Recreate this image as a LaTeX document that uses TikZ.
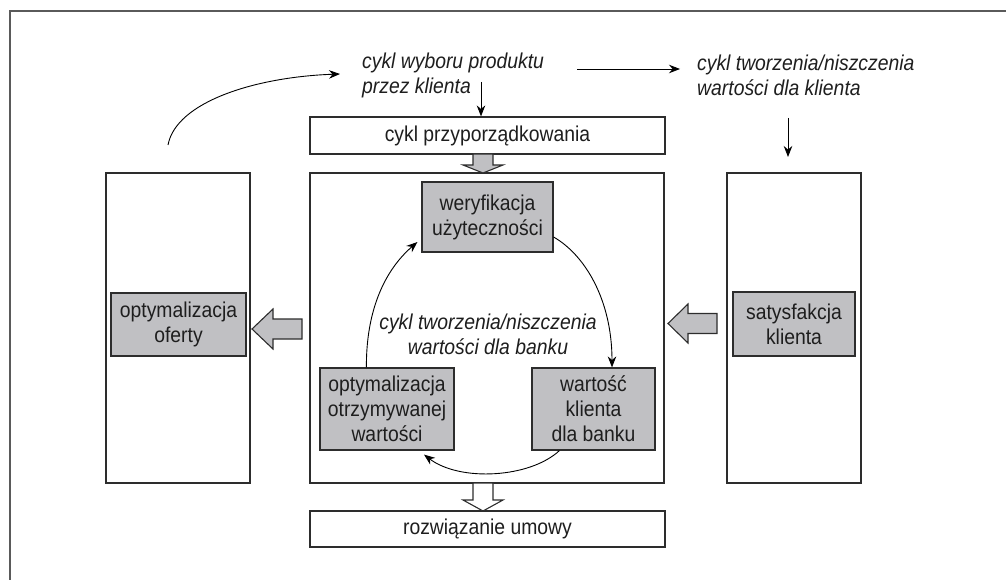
\documentclass[tikz,border=0pt]{standalone}
\usepackage{fontspec}
\setmainfont{Liberation Sans}[FakeStretch=0.9]
\usetikzlibrary{arrows.meta,calc}
\definecolor{boxgray}{RGB}{192,192,195}
\definecolor{edge}{RGB}{45,45,45}
\definecolor{ink}{RGB}{30,30,30}
\definecolor{framecol}{RGB}{90,90,90}
\tikzset{
  lbl/.style={font=\fontsize{21.5}{25}\selectfont, text=ink, align=center, inner sep=0pt},
  itl/.style={font=\fontsize{21.5}{25}\selectfont\itshape, text=ink, align=left, inner sep=0pt},
  whitebox/.style={draw=edge, line width=1.2pt, fill=white, inner sep=0pt, lbl},
  graybox/.style={draw=edge, line width=1.2pt, fill=boxgray, inner sep=0pt, lbl},
  arr/.style={-{Stealth[length=11pt,width=8.5pt]}, line width=0.9pt, draw=black},
  blockarrow/.style={draw=edge, line width=1.1pt, line join=miter},
}
\begin{document}
\begin{tikzpicture}[x=1pt, y=-1pt]
  \useasboundingbox (0,0) rectangle (1006,580);

  % open frame
  \draw[framecol, line width=1.4pt] (10,580) -- (10,11) -- (1006,11);

  % columns
  \node[whitebox, minimum width=144, minimum height=310] (lcol) at (178,328) {};
  \node[whitebox, minimum width=354, minimum height=310] (cent) at (487,328) {};
  \node[whitebox, minimum width=134, minimum height=310] (rcol) at (794,328) {};

  % top and bottom bars
  \node[whitebox, minimum width=355, minimum height=37] (cyk) at (487.5,135.5) {cykl przyporządkowania};
  \node[whitebox, minimum width=355, minimum height=36] (roz) at (487.5,529) {rozwiązanie umowy};

  % grey boxes
  \node[graybox, minimum width=131, minimum height=70] (wer) at (487.5,217) {weryfikacja\\użyteczności};
  \node[graybox, minimum width=135, minimum height=63] (ofe) at (178.5,324.5) {optymalizacja\\oferty};
  \node[graybox, minimum width=122, minimum height=64] (sat) at (794,324) {satysfakcja\\klienta};
  \node[graybox, minimum width=134, minimum height=82] (otr) at (387,409) {optymalizacja\\otrzymywanej\\wartości};
  \node[graybox, minimum width=123, minimum height=82] (war) at (593.5,409) {wartość\\klienta\\dla banku};

  % italic captions
  \node[itl, anchor=west] (wyb) at (362,75) {cykl wyboru produktu\\przez klienta};
  \node[itl, anchor=west] (kli) at (697,75) {cykl tworzenia/niszczenia\\wartości dla klienta};
  \node[itl, align=center] (ban) at (488,334.5) {cykl tworzenia/niszczenia\\wartości dla banku};

  % free ends of the connectors
  \coordinate (c0) at (168,145);
  \coordinate (c1) at (340,74);
  \coordinate (c2) at (577,69);
  \coordinate (c3) at (680,69);
  \coordinate (c4) at (481,82);
  \coordinate (c5) at (788,118);
  \coordinate (c6) at (788,157);

  % thin arrows
  \draw[arr] (c0) .. controls (176,102) and (255,77) .. (c1);
  \draw[arr] (c2) -- (c3);
  \draw[arr] (c4) -- (c4 |- cyk.north);
  \draw[arr] (c5) -- (c6);

  % cycle inside the central column
  \draw[arr] ($(otr.north west)+(47,0)$) .. controls (366,310) and (385,270) .. ($(wer.west)+(-4,25)$);
  \draw[arr] ($(wer.east)+(0,20)$) .. controls (585,255) and (612,300) .. ($(war.north)+(18.5,0)$);
  \draw[arr] ($(war.south west)+(28,0)$) .. controls (530,478) and (460,482) .. ($(otr.south)+(37,4)$);

  % block arrows
  \draw[blockarrow, fill=boxgray] (473,154) -- (493,154) -- (493,165) -- (503,165) -- (483,173)
    -- (463,165) -- (473,165) -- cycle;
  \draw[blockarrow, fill=white] (473,483) -- (493,483) -- (493,500) -- (503,500) -- (483,511)
    -- (463,500) -- (473,500) -- cycle;
  \draw[blockarrow, fill=boxgray] (302,319) -- (302,339) -- (273,339) -- (273,349) -- (252,329)
    -- (273,309) -- (273,319) -- cycle;
  \draw[blockarrow, fill=boxgray] (717,313.5) -- (717,333.5) -- (688,333.5) -- (688,343) -- (668,323.5)
    -- (688,304) -- (688,313.5) -- cycle;
\end{tikzpicture}
\end{document}
